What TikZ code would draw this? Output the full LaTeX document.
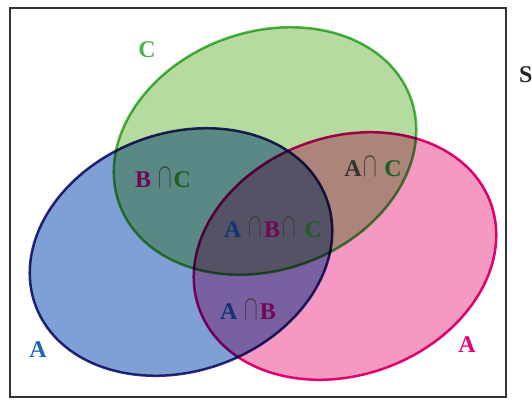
\documentclass[tikz,border=0pt]{standalone}
\usepackage{fontspec}
\setmainfont{Liberation Serif}
\definecolor{fillA}{HTML}{7FA0D4}
\definecolor{lineA}{HTML}{2B2A7E}
\definecolor{fillC}{HTML}{B5DBA0}
\definecolor{lineC}{HTML}{4DB848}
\definecolor{fillB}{HTML}{F49AC2}
\definecolor{lineB}{HTML}{E6007E}
\definecolor{txtA}{HTML}{0E3578}
\definecolor{txtB}{HTML}{6E0A55}
\definecolor{txtC}{HTML}{1F5F22}
\definecolor{txtCap}{HTML}{3A3A3A}
\definecolor{setA}{HTML}{1E64AE}
\definecolor{setC}{HTML}{4DB848}
% a tall, thin intersection sign with a little room on each side
\newcommand{\capsym}{\hspace{2pt}{\color{txtCap}\scalebox{0.82}[1.4]{$\cap$}}\hspace{2pt}}
\tikzset{
  setshape/.style={line width=2.5pt},
  lbl/.style={font=\fontsize{24}{24}\selectfont\bfseries, inner sep=0pt},
  frame/.style={draw=black!80, line width=1.6pt}
}
\begin{document}
\begin{tikzpicture}[x=1pt,y=1pt]
\useasboundingbox (0,0) rectangle (532,399);
\fill[white] (0,0) rectangle (532,399);
\draw[frame] (10,2) rectangle (506,391);
% the three sets, shaded by multiplying their colours
\begin{scope}[blend group=multiply]
  \draw[setshape, draw=lineA, fill=fillA, rotate around={20:(181,147)}]
    (181,147) ellipse [x radius=155, y radius=119];
  \draw[setshape, draw=lineC, fill=fillC, rotate around={20:(265,248)}]
    (265,248) ellipse [x radius=155, y radius=119];
  \draw[setshape, draw=lineB, fill=fillB, rotate around={20:(345,143)}]
    (345,143) ellipse [x radius=155, y radius=119];
\end{scope}
% set names
\node[lbl, text=setC] (nameC) at (147,349) {C};
\node[lbl, text=setA] (nameA) at (38,49) {A};
\node[lbl, text=lineB] (nameB) at (467,54) {A};
\node[lbl, text=black!85, anchor=west] (nameS) at (519,324) {S};
% region labels
\node[lbl] (bc) at (163,221) {\textcolor{txtB}{B}\hspace{5pt}\capsym\textcolor{txtC}{C}};
\node[lbl] (ac) at (373,232) {\textcolor{black!80}{A}\capsym\hspace{5pt}\textcolor{txtC}{C}};
\node[lbl] (abc) at (273,171) {\textcolor{txtA}{A}\hspace{5pt}\capsym\textcolor{txtB}{B}\capsym\hspace{7pt}\textcolor{txtC}{C}};
\node[lbl] (ab) at (248,89) {\textcolor{txtA}{A}\hspace{5pt}\capsym\textcolor{txtB}{B}};
\end{tikzpicture}
\end{document}
